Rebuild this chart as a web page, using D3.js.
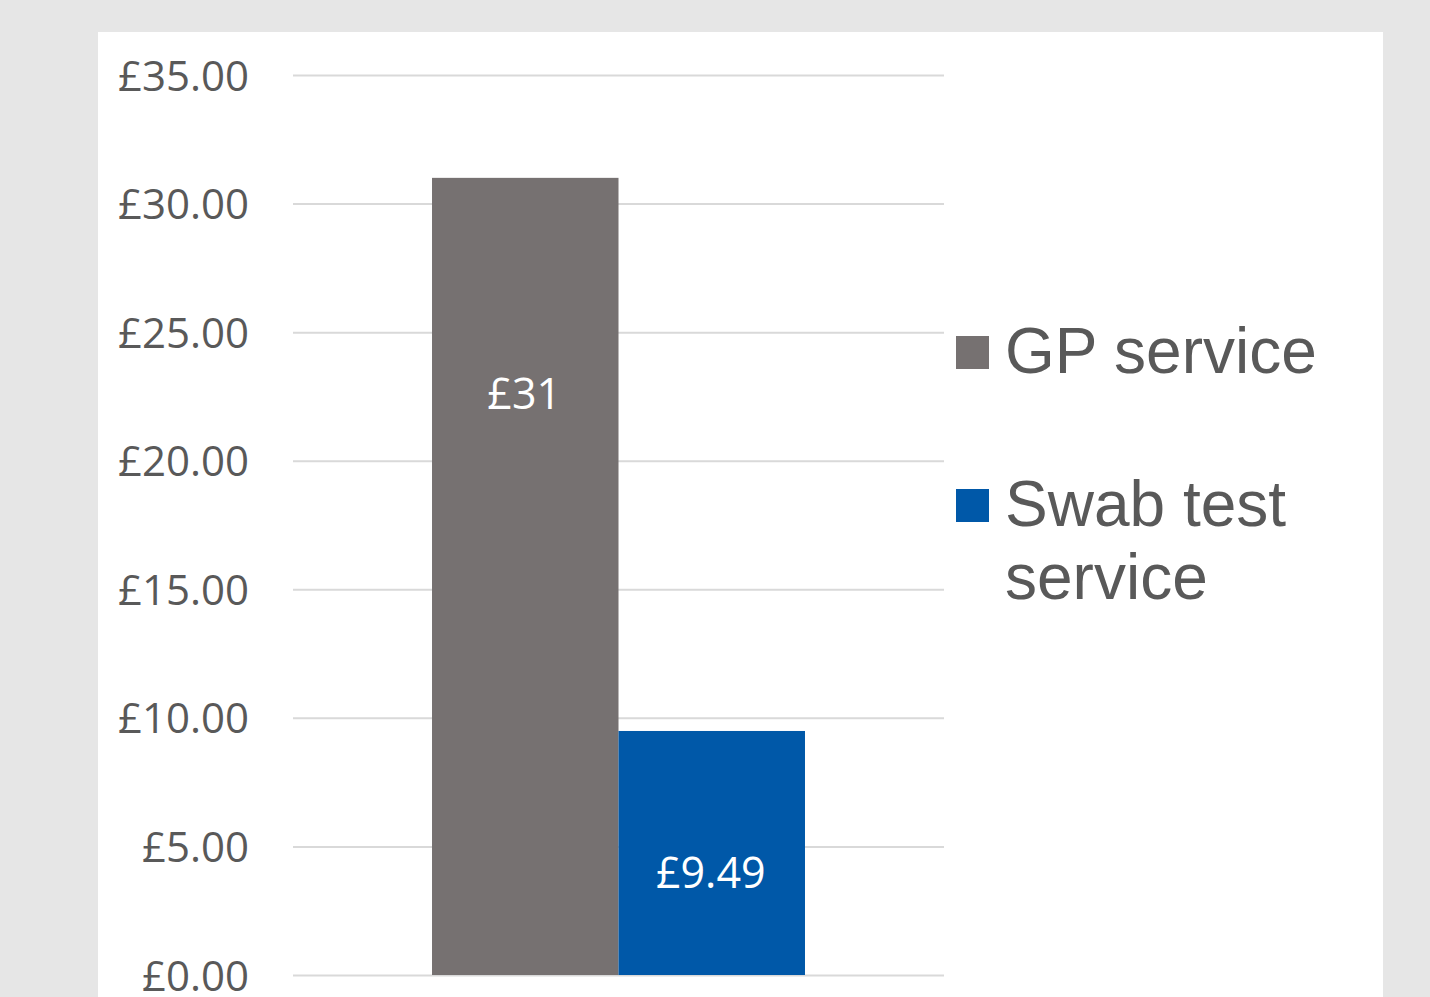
<!DOCTYPE html>
<html>
<head>
<meta charset="utf-8">
<script src="https://cdn.jsdelivr.net/npm/d3@7"></script>
<style>
  html, body { margin: 0; padding: 0; background: #e6e6e6; }
  svg { display: block; }
</style>
</head>
<body>
<svg width="1430" height="997"></svg>
<script>
// données
const categories = ["Cost"];
const series = ["GP service", "Swab test service"];
const values = [31, 9.49];
const labels = ["£31", "£9.49"];
const yTicks = [0, 5, 10, 15, 20, 25, 30, 35];
const colors = ["#767171", "#0058a8"];

const svg = d3.select("svg");

// panneau blanc
svg.append("rect")
  .attr("x", 98).attr("y", 32)
  .attr("width", 1285).attr("height", 997 - 32)
  .attr("fill", "#fff");

/*----------- Echelles -----------*/
const y = d3.scaleLinear().domain([0, 35]).range([975, 75]);
const x0 = d3.scaleBand().domain(categories).range([293, 944]).paddingOuter(0.3727).paddingInner(0);
const x1 = d3.scaleBand().domain(series).range([0, x0.bandwidth()]);

// grille + libellés de l'axe y
const yAxis = d3.axisLeft(y)
  .tickValues(yTicks)
  .tickSize(-(944 - 293))
  .tickPadding(44)
  .tickFormat((d) => "£" + d3.format(".2f")(d));

const gy = svg.append("g")
  .attr("transform", "translate(293,0)")
  .call(yAxis);
gy.select(".domain").remove();
gy.selectAll(".tick line").attr("stroke", "#d9d9d9").attr("stroke-width", 2);
gy.selectAll(".tick text")
  .attr("fill", "#595959")
  .attr("font-family", "'Open Sans', sans-serif")
  .attr("font-size", 42)
  .attr("dy", "0.36em");

// barres
const g = svg.append("g").attr("transform", "translate(" + x0(categories[0]) + ",0)");
g.selectAll("rect.bar")
  .data(series)
  .enter()
  .append("rect")
  .attr("class", "bar")
  .attr("x", (d) => x1(d))
  .attr("width", x1.bandwidth())
  .attr("y", (d, i) => y(values[i]))
  .attr("height", (d, i) => y(0) - y(values[i]))
  .attr("fill", (d, i) => colors[i]);

// étiquettes des barres
const labelY = [22.0, 3.38];
g.selectAll("text.lbl")
  .data(series)
  .enter()
  .append("text")
  .attr("class", "lbl")
  .attr("x", (d) => x1(d) + x1.bandwidth() / 2 - 1)
  .attr("y", (d, i) => y(labelY[i]))
  .attr("text-anchor", "middle")
  .attr("fill", "#fff")
  .attr("font-family", "'Open Sans', sans-serif")
  .attr("font-size", 43)
  .text((d, i) => labels[i]);

// légende
const legendLines = [["GP service"], ["Swab test", "service"]];
const legendY = [336, 489];
const leg = svg.append("g");
series.forEach((s, i) => {
  leg.append("rect")
    .attr("x", 956).attr("y", legendY[i])
    .attr("width", 33).attr("height", 33)
    .attr("fill", colors[i]);
  const t = leg.append("text")
    .attr("x", 1005)
    .attr("y", legendY[i] + 37)
    .attr("fill", "#595959")
    .attr("font-family", "'Liberation Sans', Arial, sans-serif")
    .attr("font-size", 64);
  legendLines[i].forEach((line, j) => {
    t.append("tspan")
      .attr("x", 1005)
      .attr("dy", j === 0 ? 0 : 73)
      .text(line);
  });
});
</script>
</body>
</html>
